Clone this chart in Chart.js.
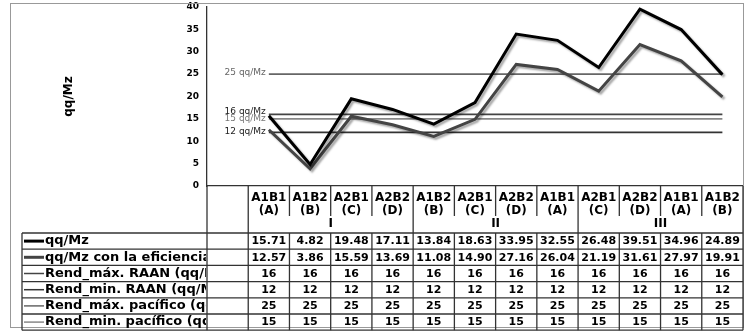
<!DOCTYPE html>
<html>
<head>
<meta charset="utf-8">
<script src="https://cdn.jsdelivr.net/npm/chart.js@4.4.0/dist/chart.umd.min.js"></script>
<style>
  body { margin: 0; background: #fff; }
</style>
</head>
<body>
<canvas id="grafico" width="749" height="336"></canvas>
<script>
// tratamientos por columna (dos renglones en la tabla)
const tratamientos = ['A1B1', 'A1B2', 'A2B1', 'A2B2', 'A1B2', 'A2B1', 'A2B2', 'A1B1', 'A2B1', 'A2B2', 'A1B1', 'A1B2'];
const letras = ['(A)', '(B)', '(C)', '(D)', '(B)', '(C)', '(D)', '(A)', '(C)', '(D)', '(A)', '(B)'];
const grupos = ['I', 'II', 'III'];
const columnasPorGrupo = 4;

const qqMz = [15.71, 4.82, 19.48, 17.11, 13.84, 18.63, 33.95, 32.55, 26.48, 39.51, 34.96, 24.89];
const qqMzEficiencia = [12.57, 3.86, 15.59, 13.69, 11.08, 14.90, 27.16, 26.04, 21.19, 31.61, 27.97, 19.91];
const rendMaxRaan = [16, 16, 16, 16, 16, 16, 16, 16, 16, 16, 16, 16];
const rendMinRaan = [12, 12, 12, 12, 12, 12, 12, 12, 12, 12, 12, 12];
const rendMaxPacifico = [25, 25, 25, 25, 25, 25, 25, 25, 25, 25, 25, 25];
const rendMinPacifico = [15, 15, 15, 15, 15, 15, 15, 15, 15, 15, 15, 15];

const ticksY = [0, 5, 10, 15, 20, 25, 30, 35, 40];

const fuente = '"DejaVu Sans", Verdana, sans-serif';

// la primera columna queda vacia, como en el original
const conVacio = arr => [null].concat(arr);

// sombra gris de las dos series principales
const sombra = {
  id: 'sombra',
  beforeDatasetDraw(chart, args) {
    if (args.index > 1) return;
    const ctx = chart.ctx;
    ctx.save();
    ctx.shadowColor = 'rgba(0,0,0,0.35)';
    ctx.shadowBlur = 2;
    ctx.shadowOffsetX = 2;
    ctx.shadowOffsetY = 2;
  },
  afterDatasetDraw(chart, args) {
    if (args.index > 1) return;
    chart.ctx.restore();
  }
};

// etiquetas "16 qq/Mz" etc. junto al primer punto
const etiquetas = {
  id: 'etiquetas',
  afterDatasetsDraw(chart) {
    const ctx = chart.ctx;
    ctx.save();
    ctx.font = '9px ' + fuente;
    ctx.textAlign = 'right';
    ctx.textBaseline = 'middle';
    chart.data.datasets.forEach((ds, i) => {
      if (!ds.etiqueta) return;
      const p = chart.getDatasetMeta(i).data[1];
      ctx.fillStyle = ds.colorEtiqueta;
      ctx.fillText(ds.data[1] + ' qq/Mz', p.x - 3, p.y + ds.despEtiqueta);
    });
    ctx.restore();
  }
};

// tabla de datos bajo el grafico
const tablaDatos = {
  id: 'tablaDatos',
  afterDraw(chart) {
    const ctx = chart.ctx;
    const area = chart.chartArea;
    const x = chart.scales.x;
    const n = chart.data.labels.length;
    const ancho = (area.right - area.left) / n;
    const izq = i => x.getPixelForValue(i) - ancho / 2;
    const yCab = area.bottom;
    const ySep = yCab + 30;
    const yTabla = yCab + 47;
    const alto = 16.2;
    const series = chart.data.datasets;
    const yFin = yTabla + alto * series.length;
    const xLeyenda = 22;

    ctx.save();
    // marco exterior
    ctx.strokeStyle = '#999';
    ctx.lineWidth = 1;
    ctx.strokeRect(10.5, 3.5, area.right - 10, 324);

    ctx.strokeStyle = '#333';
    ctx.lineWidth = 1.3;
    const linea = (x1, y1, x2, y2) => {
      ctx.beginPath();
      ctx.moveTo(x1, y1);
      ctx.lineTo(x2, y2);
      ctx.stroke();
    };

    // horizontales
    for (let r = 0; r <= series.length; r++) {
      linea(xLeyenda, yTabla + r * alto, area.right, yTabla + r * alto);
    }
    // verticales
    linea(area.left, yCab, area.left, yFin);
    linea(xLeyenda, yTabla, xLeyenda, yFin);
    for (let i = 1; i <= n; i++) {
      const xi = i === n ? area.right : izq(i);
      const limite = (i - 1) % columnasPorGrupo === 0 || i === n;
      if (limite) {
        linea(xi, yCab, xi, yFin);
      } else {
        linea(xi, yCab, xi, ySep);
        linea(xi, yTabla, xi, yFin);
      }
    }

    ctx.fillStyle = '#000';
    ctx.textAlign = 'center';
    ctx.textBaseline = 'middle';

    // encabezados
    ctx.font = 'bold 12px ' + fuente;
    tratamientos.forEach((t, k) => {
      const cx = x.getPixelForValue(k + 1);
      ctx.save();
      ctx.beginPath();
      ctx.rect(izq(k + 1), yCab, ancho, ySep - yCab);
      ctx.clip();
      ctx.fillText(t, cx, yCab + 12);
      ctx.fillText(letras[k], cx, yCab + 25);
      ctx.restore();
    });
    grupos.forEach((g, k) => {
      const a = izq(1 + k * columnasPorGrupo);
      const b = (k + 1) * columnasPorGrupo + 1 >= n ? area.right : izq(1 + (k + 1) * columnasPorGrupo);
      ctx.fillText(g, (a + b) / 2, ySep + 8);
    });

    // renglones de datos
    series.forEach((ds, r) => {
      const cy = yTabla + r * alto + alto / 2;
      // clave de leyenda
      ctx.strokeStyle = ds.borderColor;
      ctx.lineWidth = r < 2 ? 3 : 1.5;
      linea(xLeyenda + 2, cy, xLeyenda + 22, cy);
      ctx.save();
      ctx.beginPath();
      ctx.rect(xLeyenda, yTabla + r * alto, area.left - xLeyenda - 1, alto);
      ctx.clip();
      ctx.font = 'bold 13px ' + fuente;
      ctx.textAlign = 'left';
      ctx.fillText(ds.label, xLeyenda + 23, cy);
      ctx.restore();

      ctx.font = 'bold 11px ' + fuente;
      for (let i = 1; i < n; i++) {
        const v = ds.data[i];
        const texto = r < 2 ? v.toFixed(2) : String(v);
        ctx.save();
        ctx.beginPath();
        ctx.rect(izq(i) + 1, yTabla + r * alto, ancho - 2, alto);
        ctx.clip();
        ctx.fillText(texto, x.getPixelForValue(i), cy + 0.5);
        ctx.restore();
      }
    });
    ctx.restore();
  }
};

const ctx = document.getElementById('grafico');
new Chart(ctx, {
  type: 'line',
  data: {
    labels: [''].concat(tratamientos),
    datasets: [
      { label: 'qq/Mz', data: conVacio(qqMz), borderColor: '#000', borderWidth: 3 },
      { label: 'qq/Mz con la eficiencia', data: conVacio(qqMzEficiencia), borderColor: '#444', borderWidth: 3 },
      { label: 'Rend_máx. RAAN (qq/Mz)', data: conVacio(rendMaxRaan), borderColor: '#444', borderWidth: 1.8,
        etiqueta: true, colorEtiqueta: '#222', despEtiqueta: -3 },
      { label: 'Rend_min. RAAN (qq/Mz)', data: conVacio(rendMinRaan), borderColor: '#333', borderWidth: 1.8,
        etiqueta: true, colorEtiqueta: '#222', despEtiqueta: -1 },
      { label: 'Rend_máx. pacífico (qq/Mz)', data: conVacio(rendMaxPacifico), borderColor: '#666', borderWidth: 1.8,
        etiqueta: true, colorEtiqueta: '#666', despEtiqueta: -1 },
      { label: 'Rend_min. pacífico (qq/Mz)', data: conVacio(rendMinPacifico), borderColor: '#888', borderWidth: 1.8,
        etiqueta: true, colorEtiqueta: '#777', despEtiqueta: 0 }
    ]
  },
  options: {
    responsive: false,
    animation: false,
    devicePixelRatio: 1,
    layout: { padding: { left: 10, right: 6, top: 7, bottom: 150 } },
    elements: { point: { radius: 0 }, line: { tension: 0 } },
    plugins: { legend: { display: false }, tooltip: { enabled: false } },
    scales: {
      x: {
        type: 'category',
        offset: true,
        ticks: { display: false },
        grid: { drawOnChartArea: false, drawTicks: false },
        border: { display: true, color: '#333', width: 1.3 }
      },
      y: {
        min: 0,
        max: 40,
        afterBuildTicks: s => { s.ticks = ticksY.map(v => ({ value: v })); },
        afterFit: s => { s.width = 197; },
        ticks: { padding: 0, color: '#000', font: { family: fuente, size: 9, weight: 'bold' } },
        grid: { drawOnChartArea: false, drawTicks: true, tickLength: 8, tickColor: 'rgba(0,0,0,0)' },
        border: { display: true, color: '#333', width: 1.3 },
        title: {
          display: true,
          text: 'qq/Mz',
          color: '#000',
          font: { family: fuente, size: 12, weight: 'bold' },
          padding: { top: 52, bottom: 0 }
        }
      }
    }
  },
  plugins: [sombra, etiquetas, tablaDatos]
});
</script>
</body>
</html>
